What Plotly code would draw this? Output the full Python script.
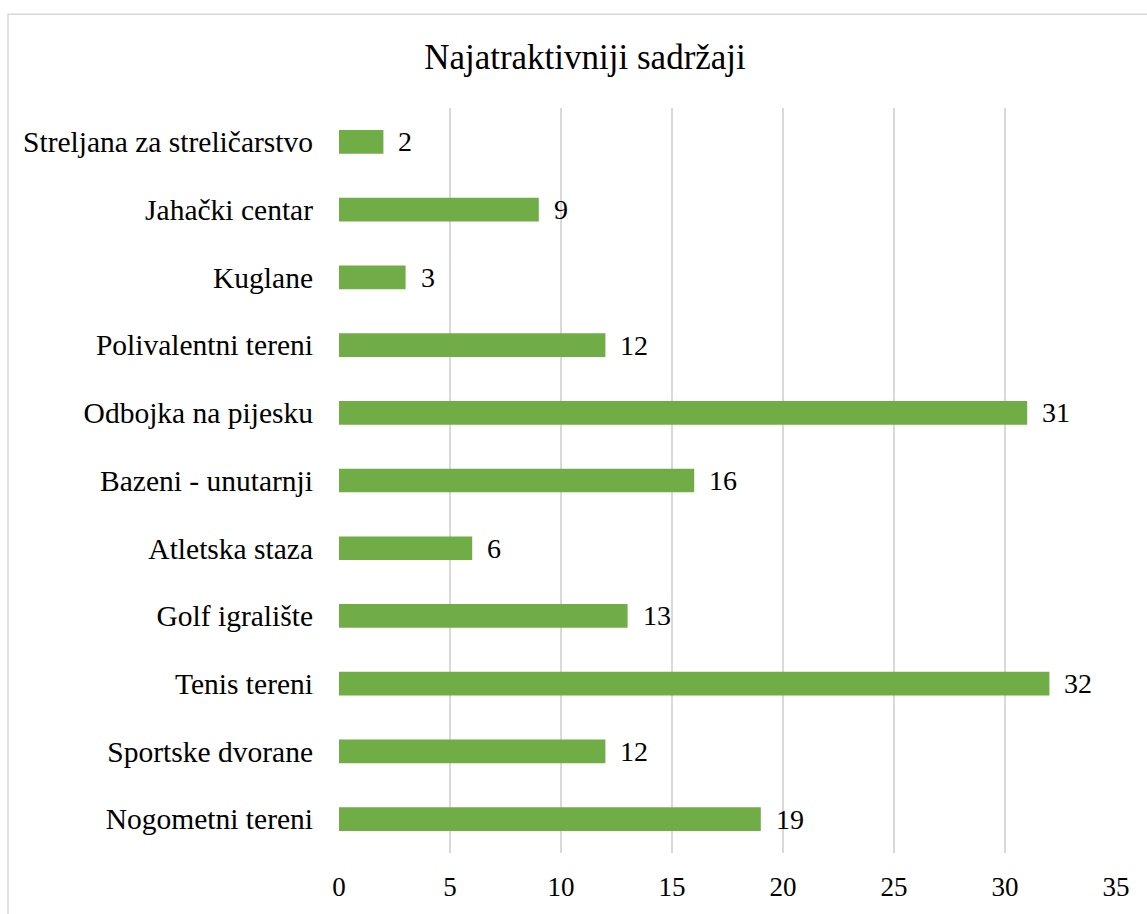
import plotly.graph_objects as go

categories = [
    "Nogometni tereni",
    "Sportske dvorane",
    "Tenis tereni",
    "Golf igralište",
    "Atletska staza",
    "Bazeni - unutarnji",
    "Odbojka na pijesku",
    "Polivalentni tereni",
    "Kuglane",
    "Jahački centar",
    "Streljana za streličarstvo",
]
values = [19, 12, 32, 13, 6, 16, 31, 12, 3, 9, 2]
x_ticks = [0, 5, 10, 15, 20, 25, 30, 35]

FONT = "Liberation Serif"

fig = go.Figure()
fig.add_trace(go.Bar(
    y=categories, x=values, orientation="h",
    marker=dict(color="#70AD47", line=dict(width=0)),
    width=0.35,
    hoverinfo="skip",
))

for c, v in zip(categories, values):
    fig.add_annotation(x=v, y=c, text=str(v), showarrow=False,
                       xanchor="left", xshift=13,
                       font=dict(family=FONT, size=28, color="#000000"))

fig.add_shape(type="rect", xref="paper", yref="paper",
              x0=-0.426, x1=1.06, y0=-0.1, y1=1.126,
              line=dict(color="#D9D9D9", width=1.5), fillcolor="rgba(0,0,0,0)",
              layer="below")

fig.update_layout(
    width=1147, height=914,
    margin=dict(l=339, r=31, t=108, b=61),
    paper_bgcolor="white", plot_bgcolor="white",
    showlegend=False,
    font=dict(family=FONT),
    title=dict(text="Najatraktivniji sadržaji", x=0.51, xanchor="center",
               y=1 - 57 / 914, yanchor="middle",
               font=dict(family=FONT, size=35, color="#000000")),
    xaxis=dict(range=[0, 35], tickvals=x_ticks, showgrid=True,
               gridcolor="#D9D9D9", gridwidth=1.5, zeroline=False,
               showline=False, ticks="", ticklabelstandoff=15,
               tickfont=dict(family=FONT, size=27, color="#000000"),
               fixedrange=True),
    yaxis=dict(showgrid=False, zeroline=False, showline=False, ticks="",
               ticklabelstandoff=25,
               tickfont=dict(family=FONT, size=29.5, color="#000000"),
               fixedrange=True),
)

fig.write_html("out.html", config={"displayModeBar": False},
               post_script="document.body.style.margin='0';document.body.style.overflow='hidden';")
